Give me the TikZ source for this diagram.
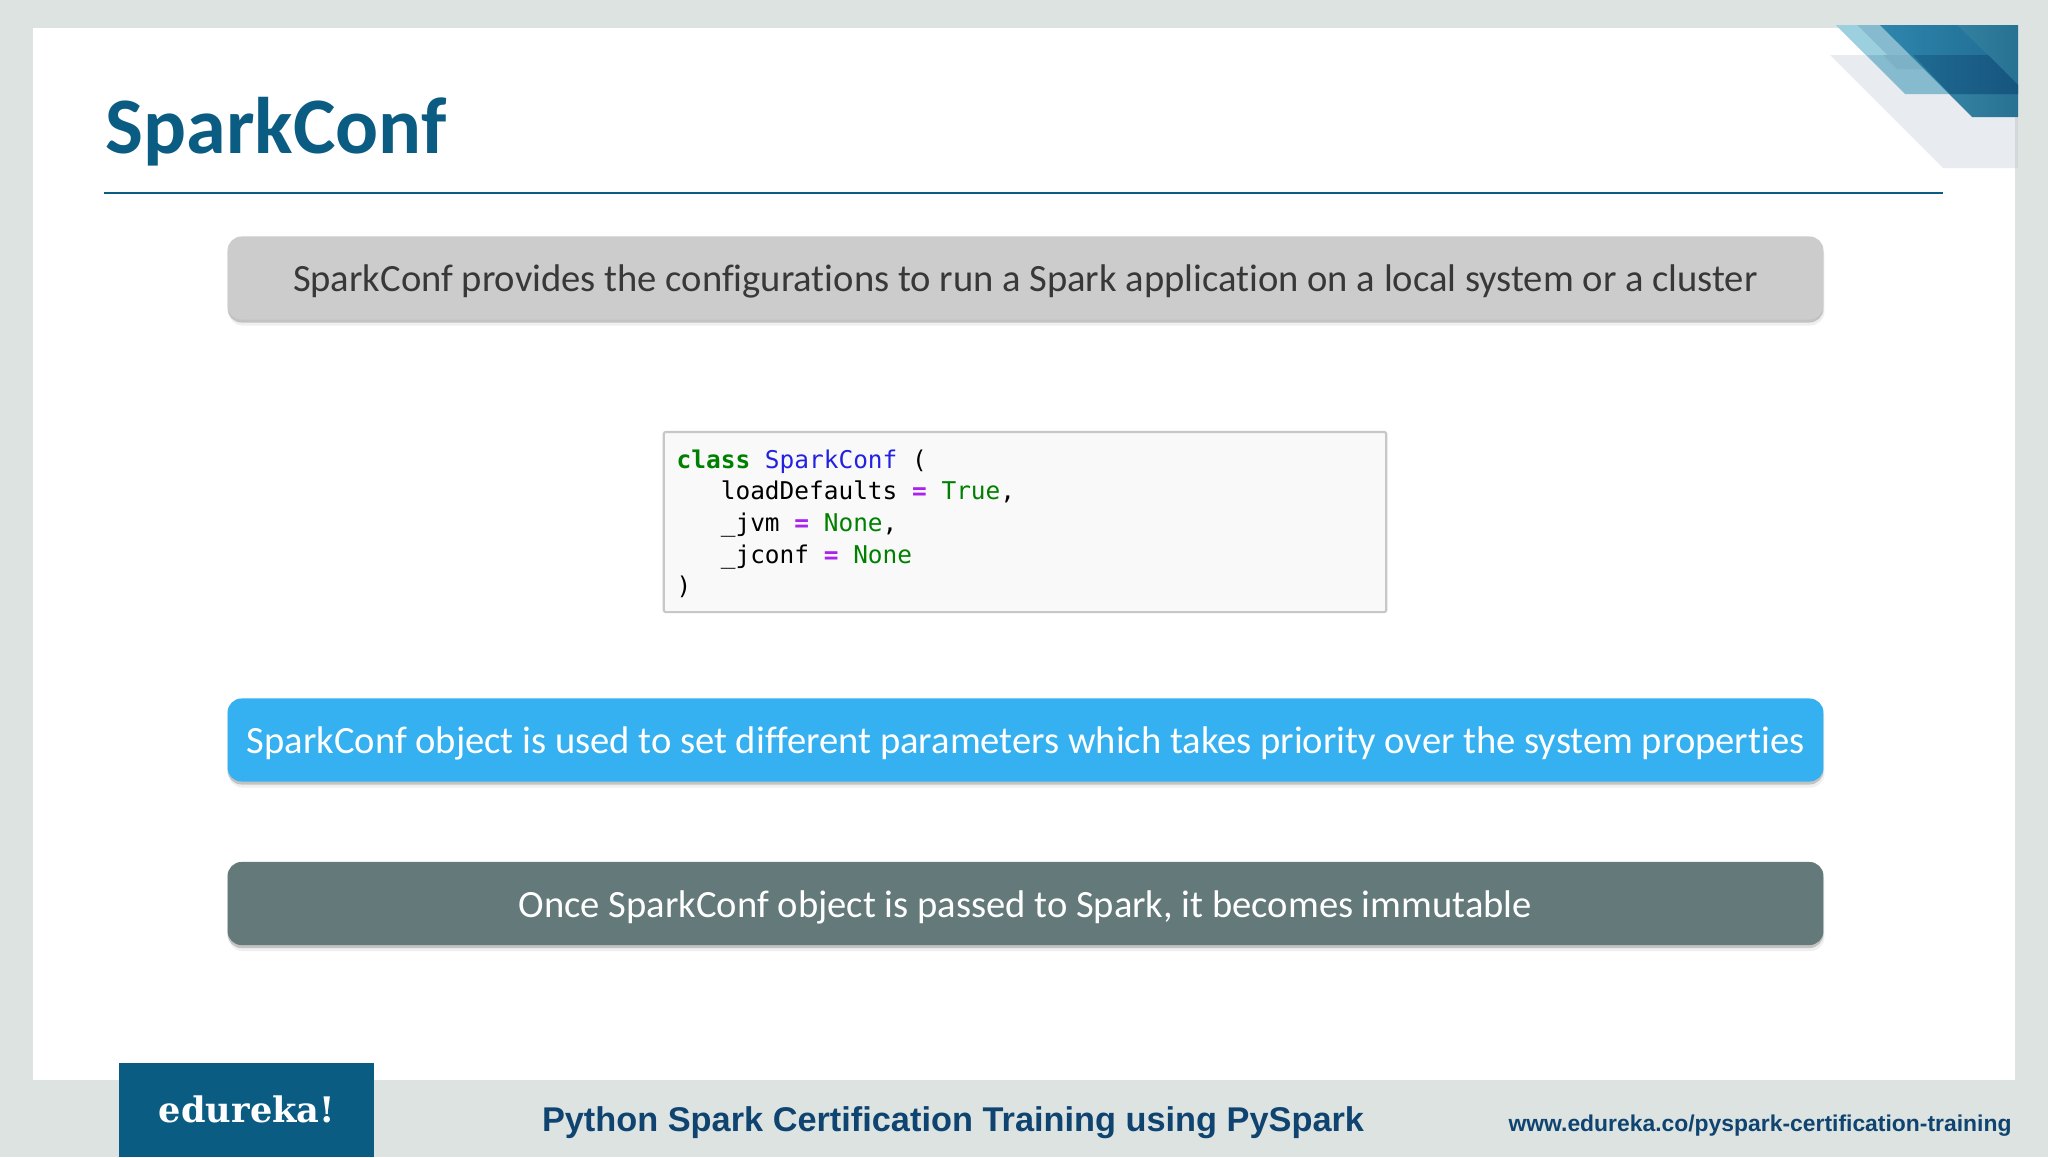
\documentclass[tikz,border=0pt]{standalone}
\usepackage{fontspec}
\setmainfont[RawFeature={-liga;-dlig}]{Carlito}
\newfontfamily\codefont{DejaVu Sans Mono}
\newfontfamily\footfont{Liberation Sans}
\newfontfamily\logofont{DejaVu Serif}
\usetikzlibrary{shadows}
\definecolor{pagegrey}{HTML}{DDE3E1}
\definecolor{titleblue}{HTML}{0B5C82}
\definecolor{footblue}{HTML}{0F4470}
\definecolor{kwgreen}{HTML}{008000}
\definecolor{namblue}{HTML}{2222E0}
\definecolor{eqpurple}{HTML}{AA22EE}
\definecolor{skyblue}{HTML}{35B0F0}
\definecolor{slategrey}{HTML}{647A7A}
\definecolor{cornergrey}{HTML}{E8EBF0}
\definecolor{cornerline}{HTML}{D5D8DA}
\definecolor{cornerlight}{HTML}{86BACF}
\definecolor{cornerpale}{HTML}{9CD0DE}
\definecolor{cornermid}{HTML}{7DB2C6}
\definecolor{cornerblue}{HTML}{2E86AC}
\definecolor{cornerdark}{HTML}{1F6A92}
\definecolor{cornerdeep}{HTML}{16557E}
\newcommand{\eqsign}{\textcolor{eqpurple}{\textbf{=}}}
\tikzset{
	msgbox/.style={minimum width=15.95cm,minimum height=0.83cm,rounded corners=0.14cm,inner sep=0pt,
		text height=9.7pt,text depth=2pt,font=\fontsize{10.97pt}{13pt}\selectfont,
		drop shadow={shadow xshift=0.01cm,shadow yshift=-0.06cm,opacity=0.12},
		drop shadow={shadow xshift=0cm,shadow yshift=-0.03cm,opacity=0.4}},
	footlabel/.style={text=footblue,inner sep=0pt}
}
\begin{document}
\begin{tikzpicture}[x=0.01cm,y=-0.01cm]
	\useasboundingbox (0,0) rectangle (2048,1157);
	% page
	\fill[pagegrey] (0,0) rectangle (2048,1157);
	\fill[white] (33,28) rectangle (2015,1080);
	% corner
	\fill[cornergrey] (1830,55)--(1943,168)--(2015,168)--(2015,55)--cycle;
	\fill[cornerline] (2015,117) rectangle (2018,168);
	\fill[cornerlight] (1836,25)--(1905,94)--(1950,94)--(1880,25)--cycle;
	\fill[cornerpale] (1836,25)--(1866,55)--(1887,55)--(1857,25)--cycle;
	\fill[cornermid] (1883,55)--(1897,69)--(1927,69)--(1913,55)--cycle;
	\shade[left color=cornerblue!90!white,right color=cornerblue!85!black] (1880,25)--(1972,117)--(2018,117)--(2018,25)--cycle;
	\shade[left color=cornerblue,right color=cornerdark] (1880,25)--(1950,94)--(2018,94)--(2018,85)--(1957,25)--cycle;
	\shade[left color=cornerdark,right color=cornerdeep] (1913,55)--(1950,94)--(2018,94)--(2018,85)--(1988,55)--cycle;
	% title
	\node (title) at (105,132)[anchor=west,inner sep=0pt,text=titleblue,font=\fontsize{22.8pt}{28pt}\selectfont\bfseries] {SparkConf};
	\coordinate (ruleleft) at (104,193);
	\coordinate (ruleright) at (1943,193);
	\draw[titleblue,line width=0.5pt] (ruleleft)--(ruleright);
	% boxes
	\node (confbox) at (1025.5,278)[msgbox,fill=black!20,text=black!78] {SparkConf provides the configurations to run a Spark application on a local system or a cluster};
	\node (objbox) at (1025.5,740)[msgbox,fill=skyblue,text=white] {SparkConf object is used to set different parameters which takes priority over the system properties};
	\node (immbox) at (1025.5,903.5)[msgbox,fill=slategrey,text=white] {Once SparkConf object is passed to Spark, it becomes immutable};
	% code
	\node (codebox) at (1025,522)[draw=black!22,line width=0.6pt,fill=black!2.5,minimum width=7.22cm,minimum height=1.8cm,rounded corners=0.02cm,inner sep=0pt] {};
	\node (code) at (676,449)[anchor=north west,inner sep=0pt,align=left,font=\codefont\fontsize{6.95pt}{9pt}\selectfont]
		{\textcolor{kwgreen}{\textbf{class}} \textcolor{namblue}{SparkConf} (\\
		\phantom{mmm}loadDefaults \eqsign{} \textcolor{kwgreen}{True},\\
		\phantom{mmm}\_jvm \eqsign{} \textcolor{kwgreen}{None},\\
		\phantom{mmm}\_jconf \eqsign{} \textcolor{kwgreen}{None}\\
		)};
	% footer
	\node (logo) at (246.5,1110)[fill=titleblue,minimum width=2.55cm,minimum height=0.94cm,inner sep=0pt] {};
	\node (logotext) at (247,1109)[text=white,inner sep=0pt,font=\logofont\bfseries\fontsize{10pt}{12pt}\selectfont] {edureka!};
	\node (course) at (953,1123)[footlabel,font=\footfont\bfseries\fontsize{9.76pt}{12pt}\selectfont] {Python Spark Certification Training using PySpark};
	\node (url) at (1760,1126)[footlabel,font=\footfont\bfseries\fontsize{6.51pt}{9pt}\selectfont] {www.edureka.co/pyspark-certification-training};
\end{tikzpicture}
\end{document}
